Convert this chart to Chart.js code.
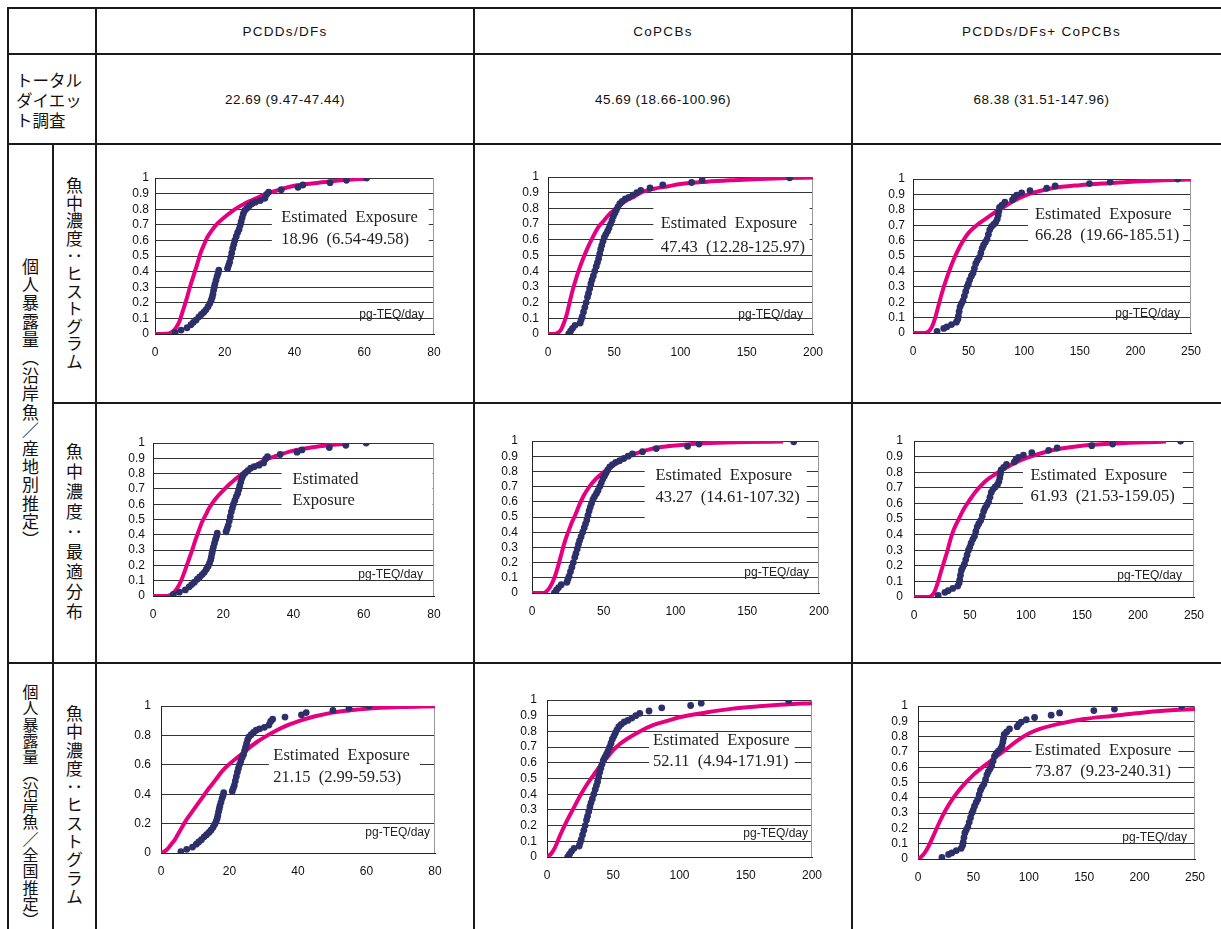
<!DOCTYPE html>
<html>
<head>
<meta charset="utf-8">
<script src="https://cdn.jsdelivr.net/npm/chart.js@4.4.1/dist/chart.umd.min.js"></script>
<style>
  body { margin: 0; width: 1221px; height: 929px; overflow: hidden; background: #fff; position: relative; color: #111; font-family: "Liberation Sans", sans-serif; }
  .ln { position: absolute; background: #1a1a1a; }
  .cell { position: absolute; display: flex; align-items: center; justify-content: center; }
  .head { font-size: 13.5px; letter-spacing: 1.3px; }
  .val { font-size: 13.5px; letter-spacing: 0.5px; }
  .jp { font-family: "Noto Sans CJK JP", sans-serif; }
  .vt { writing-mode: vertical-rl; text-orientation: upright; font-family: "Noto Sans CJK JP", sans-serif; font-size: 17px; }
  canvas { position: absolute; }
</style>
</head>
<body>
<!-- table rules -->
<div class="ln" style="left:7px;top:7px;width:1230px;height:2px"></div>
<div class="ln" style="left:7px;top:53px;width:1230px;height:2px"></div>
<div class="ln" style="left:7px;top:143px;width:1230px;height:2px"></div>
<div class="ln" style="left:52px;top:402px;width:1180px;height:2px"></div>
<div class="ln" style="left:7px;top:662px;width:1230px;height:2px"></div>
<div class="ln" style="left:7px;top:7px;width:2px;height:930px"></div>
<div class="ln" style="left:52px;top:143px;width:2px;height:790px"></div>
<div class="ln" style="left:95px;top:7px;width:2px;height:930px"></div>
<div class="ln" style="left:473px;top:7px;width:2px;height:930px"></div>
<div class="ln" style="left:851px;top:7px;width:2px;height:930px"></div>

<div id="labels"></div>

<script>
// column titles and total diet study values
const colTitles = ["PCDDs/DFs", "CoPCBs", "PCDDs/DFs+ CoPCBs"];
const totalDiet = ["22.69 (9.47-47.44)", "45.69 (18.66-100.96)", "68.38 (31.51-147.96)"];
const rowGroupA = "個人暴露量（沿岸魚／産地別推定）";
const rowGroupB = "個人暴露量（沿岸魚／全国推定）";
const subHist = "魚中濃度：ヒストグラム";
const subFit = "魚中濃度：最適分布";
const unitLabel = "pg-TEQ/day";

// axis ticks
const xMax = [80, 200, 250];
const xStep = [20, 50, 50];
const yTicksFine = [0, 0.1, 0.2, 0.3, 0.4, 0.5, 0.6, 0.7, 0.8, 0.9, 1];
const yTicksCoarse = [0, 0.2, 0.4, 0.6, 0.8, 1];

// observed cumulative points (same for every row of a column)
const obsPCDD = [[5.8,0.01],[7.5,0.025],[9.2,0.04],[10.3,0.06],[11.0,0.075],[11.8,0.09],[12.6,0.11],[13.3,0.125],[14.0,0.14],[14.6,0.155],[15.2,0.175],[15.7,0.195],[16.1,0.215],[16.4,0.235],[16.6,0.255],[16.8,0.28],[17.0,0.30],[17.2,0.32],[17.5,0.345],[17.8,0.37],[18.1,0.39],[18.3,0.41],[20.8,0.42],[21.1,0.44],[21.4,0.46],[21.7,0.49],[22.0,0.52],[22.3,0.55],[22.6,0.575],[22.9,0.60],[23.3,0.625],[23.7,0.65],[24.1,0.67],[24.4,0.695],[24.7,0.72],[25.0,0.745],[25.3,0.77],[25.7,0.79],[26.3,0.805],[27.0,0.82],[27.8,0.835],[28.8,0.845],[30.2,0.855],[31.5,0.87],[32.0,0.895],[32.6,0.91],[36.2,0.925],[41.0,0.94],[42.4,0.955],[50.2,0.97],[54.9,0.985],[60.7,1.0]];
const obsCoPCB = [[15.6,0.0],[17.0,0.018],[18.5,0.036],[20.4,0.055],[24.3,0.07],[25.0,0.09],[25.8,0.11],[26.8,0.14],[27.8,0.17],[28.8,0.20],[29.8,0.235],[30.6,0.26],[31.5,0.29],[32.4,0.32],[33.2,0.345],[34.2,0.37],[35.3,0.40],[36.4,0.43],[37.3,0.455],[38.2,0.48],[39.0,0.51],[39.8,0.54],[40.6,0.565],[41.5,0.59],[42.5,0.615],[43.6,0.635],[44.9,0.655],[46.0,0.675],[47.2,0.70],[48.3,0.725],[49.3,0.75],[50.5,0.77],[51.6,0.79],[52.8,0.81],[54.2,0.83],[56.0,0.845],[58.3,0.86],[61.0,0.87],[64.0,0.885],[67.0,0.90],[70.0,0.915],[77.0,0.93],[86.6,0.95],[108.4,0.965],[116.4,0.98],[182.4,0.995]];
const obsSum = [[21.6,0.01],[27.6,0.03],[30.5,0.04],[34.6,0.055],[39.0,0.07],[40.3,0.09],[40.8,0.11],[41.5,0.14],[42.3,0.17],[43.5,0.19],[45.0,0.21],[46.2,0.24],[47.4,0.27],[48.6,0.30],[49.8,0.32],[51.0,0.345],[52.5,0.37],[54.0,0.39],[55.2,0.42],[56.4,0.45],[57.8,0.47],[59.5,0.49],[61.0,0.52],[62.2,0.55],[63.4,0.57],[65.0,0.59],[66.6,0.61],[67.8,0.64],[69.0,0.67],[70.5,0.69],[72.5,0.705],[74.5,0.72],[75.8,0.74],[76.6,0.765],[77.2,0.79],[77.8,0.815],[80.0,0.83],[82.6,0.85],[89.5,0.865],[91.0,0.88],[93.2,0.895],[97.7,0.91],[105.2,0.925],[120.2,0.94],[127.8,0.955],[158.7,0.97],[177.3,0.98],[238.0,1.0]];

// estimated exposure curves (pink), one per panel
const fitR1C1 = [[0,0],[2,0],[4,0.003],[5,0.015],[6,0.04],[7,0.08],[8,0.15],[9,0.22],[10,0.30],[11,0.37],[12,0.44],[13,0.515],[14,0.57],[15,0.62],[16,0.655],[18,0.71],[20,0.75],[22,0.785],[24,0.815],[26,0.84],[28,0.86],[30,0.88],[32,0.90],[35,0.92],[40,0.95],[45,0.965],[50,0.978],[55,0.988],[60.5,0.995]];
const fitR1C2 = [[0,0],[5,0],[8,0.01],[10,0.03],[12,0.07],[14,0.12],[16,0.19],[18,0.26],[20,0.32],[23,0.40],[26,0.47],[30,0.55],[34,0.62],[38,0.68],[42,0.72],[46,0.76],[50,0.79],[55,0.825],[60,0.855],[65,0.875],[70,0.90],[80,0.925],[90,0.94],[100,0.955],[120,0.97],[140,0.98],[160,0.988],[180,0.993],[200,0.997]];
const fitR1C3 = [[0,0],[10,0],[14,0.01],[17,0.04],[20,0.10],[23,0.18],[26,0.26],[30,0.35],[34,0.43],[38,0.50],[42,0.56],[46,0.61],[50,0.65],[55,0.685],[60,0.715],[65,0.74],[70,0.765],[75,0.79],[80,0.81],[90,0.855],[100,0.89],[110,0.915],[125,0.94],[150,0.96],[175,0.973],[200,0.984],[225,0.992],[250,0.997]];
const fitR2C1 = [[0,0],[4,0],[5,0.008],[6,0.025],[7,0.055],[8,0.10],[9,0.16],[10,0.225],[11,0.29],[12,0.36],[13,0.425],[14,0.485],[15,0.53],[16,0.575],[18,0.64],[20,0.69],[22,0.735],[24,0.775],[26,0.81],[28,0.84],[30,0.865],[32,0.89],[35,0.915],[40,0.95],[45,0.97],[50,0.985],[55,0.995]];
const fitR2C2 = [[0,0],[8,0],[10,0.01],[12,0.03],[14,0.065],[16,0.11],[18,0.17],[20,0.24],[22,0.31],[24,0.37],[26,0.42],[28,0.47],[30,0.51],[33,0.58],[36,0.64],[40,0.70],[45,0.755],[50,0.795],[55,0.83],[60,0.86],[65,0.89],[70,0.91],[80,0.94],[90,0.96],[100,0.97],[120,0.985],[150,0.993],[175,0.997]];
const fitR2C3 = [[0,0],[13,0],[16,0.01],[18,0.03],[20,0.065],[22,0.11],[24,0.16],[27,0.23],[30,0.30],[33,0.38],[36,0.44],[40,0.50],[45,0.57],[50,0.625],[55,0.675],[60,0.715],[65,0.75],[70,0.775],[80,0.82],[90,0.86],[100,0.89],[115,0.925],[130,0.95],[150,0.97],[175,0.982],[200,0.99],[225,0.996]];
const fitR3C1 = [[0,0],[1,0.01],[2,0.03],[3,0.06],[4,0.09],[5,0.13],[6,0.17],[7,0.21],[8,0.245],[10,0.31],[12,0.375],[14,0.44],[16,0.50],[18,0.56],[20,0.605],[22,0.645],[24,0.68],[26,0.72],[28,0.755],[30,0.785],[33,0.825],[36,0.86],[40,0.895],[45,0.93],[50,0.955],[55,0.97],[60,0.982],[70,0.993],[80,0.998]];
const fitR3C2 = [[0,0],[3,0.02],[6,0.06],[10,0.14],[15,0.23],[20,0.31],[25,0.39],[30,0.46],[35,0.52],[40,0.58],[45,0.63],[50,0.68],[55,0.72],[60,0.75],[70,0.80],[80,0.84],[90,0.865],[100,0.89],[120,0.92],[140,0.945],[160,0.96],[180,0.972],[200,0.98]];
const fitR3C3 = [[0,0],[3,0.015],[6,0.04],[10,0.09],[15,0.17],[20,0.25],[25,0.32],[30,0.38],[35,0.43],[40,0.475],[50,0.55],[60,0.61],[70,0.665],[80,0.72],[90,0.775],[100,0.82],[110,0.85],[125,0.88],[150,0.915],[175,0.935],[200,0.955],[225,0.97],[250,0.98]];

// estimated exposure text per panel
const estR1 = ["18.96  (6.54-49.58)", "47.43  (12.28-125.97)", "66.28  (19.66-185.51)"];
const estR2 = ["", "43.27  (14.61-107.32)", "61.93  (21.53-159.05)"];
const estR3 = ["21.15  (2.99-59.53)", "52.11  (4.94-171.91)", "73.87  (9.23-240.31)"];

const PINK = "#e5007f";
const NAVY = "#2d2f6a";
const PL = 45, PT = 12, PR = 22, PB = 30;

// ---- html labels ----
const lab = document.getElementById("labels");
function cell(x, y, w, h, cls, html, style) {
  const d = document.createElement("div");
  d.className = "cell " + cls;
  d.style.cssText = `left:${x}px;top:${y}px;width:${w}px;height:${h}px;` + (style || "");
  d.innerHTML = html;
  lab.appendChild(d);
}
const colX = [97, 475, 853];
const colW = [376, 376, 377];
colTitles.forEach((t, i) => cell(colX[i], 9, colW[i], 44, "head", t));
totalDiet.forEach((t, i) => cell(colX[i], 55, colW[i], 88, "val", t));
cell(16, 69, 80, 62, "jp", "トータル<br>ダイエッ<br>ト調査",
  "justify-content:flex-start;font-size:16.5px;line-height:20px;");
cell(9, 145, 43, 517, "", `<div class="vt" style="letter-spacing:1.2px">${rowGroupA}</div>`);
cell(54, 145, 41, 257, "", `<div class="vt" style="letter-spacing:0.6px">${subHist}</div>`);
cell(54, 404, 41, 258, "", `<div class="vt" style="letter-spacing:3px">${subFit}</div>`);
cell(9, 664, 43, 284, "", `<div class="vt" style="font-size:16px;letter-spacing:0.3px">${rowGroupB}</div>`);
cell(54, 664, 41, 284, "", `<div class="vt" style="letter-spacing:1.3px">${subHist}</div>`);

// ---- annotation plugin: white box, estimate text, unit, right frame ----
const annotate = {
  id: "annotate",
  beforeDatasetsDraw(chart, args, opts) {
    const p = opts.panel;
    const { ctx, chartArea: a } = chart;
    const x = chart.scales.x, y = chart.scales.y;
    ctx.save();
    ctx.strokeStyle = "#999";
    ctx.lineWidth = 1;
    ctx.beginPath();
    ctx.moveTo(a.right - 0.5, a.top);
    ctx.lineTo(a.right - 0.5, a.bottom);
    ctx.stroke();
    const bx0 = x.getPixelForValue(p.box[0]), bx1 = x.getPixelForValue(p.box[1]);
    const by0 = y.getPixelForValue(p.box[3]), by1 = y.getPixelForValue(p.box[2]);
    ctx.fillStyle = "#fff";
    ctx.fillRect(bx0, by0, bx1 - bx0, by1 - by0);
    ctx.fillStyle = "#222";
    ctx.font = '16.5px "Liberation Serif"';
    ctx.textAlign = "left";
    ctx.textBaseline = "middle";
    p.lines.forEach((t, i) => ctx.fillText(t, x.getPixelForValue(p.tx), y.getPixelForValue(p.ty[i])));
    ctx.font = '12px "Liberation Sans"';
    ctx.textAlign = "right";
    ctx.fillText(unitLabel, a.right - p.unitDx, y.getPixelForValue(p.unitY));
    ctx.restore();
  },
};

const panels = [
  { obs: obsPCDD, fit: fitR1C1, col: 0, yTicks: yTicksFine, plot: [155, 178, 434, 334], ylPad: 6,
    box: [33.5, 78.5, 0.55, 0.85], tx: 36.2, ty: [0.745, 0.605], lines: ["Estimated  Exposure", estR1[0]], unitY: 0.126, unitDx: 10 },
  { obs: obsCoPCB, fit: fitR1C2, col: 1, yTicks: yTicksFine, plot: [548, 177, 813, 334], ylPad: 9,
    box: [79.5, 197.5, 0.52, 0.84], tx: 85, ty: [0.705, 0.553], lines: ["Estimated  Exposure", estR1[1]], unitY: 0.125, unitDx: 10 },
  { obs: obsSum, fit: fitR1C3, col: 2, yTicks: yTicksFine, plot: [913, 179, 1191, 333], ylPad: 8,
    box: [103.5, 243, 0.5, 0.84], tx: 109.7, ty: [0.767, 0.63], lines: ["Estimated  Exposure", estR1[2]], unitY: 0.123, unitDx: 11 },
  { obs: obsPCDD, fit: fitR2C1, col: 0, yTicks: yTicksFine, plot: [153, 443, 434, 596], ylPad: 8,
    box: [36.6, 79.6, 0.55, 0.85], tx: 39.7, ty: [0.76, 0.62], lines: ["Estimated", "Exposure"], unitY: 0.138, unitDx: 11 },
  { obs: obsCoPCB, fit: fitR2C2, col: 1, yTicks: yTicksFine, plot: [532, 441, 819, 593], ylPad: 14,
    box: [78.5, 191.5, 0.48, 0.84], tx: 86, ty: [0.775, 0.626], lines: ["Estimated  Exposure", estR2[1]], unitY: 0.131, unitDx: 10 },
  { obs: obsSum, fit: fitR2C3, col: 2, yTicks: yTicksFine, plot: [914, 441, 1194, 597], ylPad: 11,
    box: [97.3, 240, 0.53, 0.84], tx: 104, ty: [0.776, 0.64], lines: ["Estimated  Exposure", estR2[2]], unitY: 0.135, unitDx: 12 },
  { obs: obsPCDD, fit: fitR3C1, col: 0, yTicks: yTicksCoarse, plot: [161, 706, 435, 853], ylPad: 10,
    box: [31.5, 75.6, 0.46, 0.77], tx: 32.8, ty: [0.66, 0.51], lines: ["Estimated  Exposure", estR3[0]], unitY: 0.136, unitDx: 5 },
  { obs: obsCoPCB, fit: fitR3C2, col: 1, yTicks: yTicksFine, plot: [547, 700, 812, 857], ylPad: 10,
    box: [77, 187, 0.55, 0.77], tx: 80, ty: [0.739, 0.605], lines: ["Estimated  Exposure", estR3[1]], unitY: 0.146, unitDx: 4 },
  { obs: obsSum, fit: fitR3C3, col: 2, yTicks: yTicksFine, plot: [918, 706, 1195, 859], ylPad: 10,
    box: [102.4, 235, 0.53, 0.77], tx: 105.4, ty: [0.71, 0.57], lines: ["Estimated  Exposure", estR3[2]], unitY: 0.141, unitDx: 8 },
];

const tickFont = { family: "Liberation Sans", size: 12, lineHeight: 1 };

panels.forEach((p) => {
  const [l, t, r, b] = p.plot;
  const cv = document.createElement("canvas");
  const w = r - l + PL + PR, h = b - t + PT + PB;
  cv.width = w;
  cv.height = h;
  cv.style.left = l - PL + "px";
  cv.style.top = t - PT + "px";
  cv.style.width = w + "px";
  cv.style.height = h + "px";
  document.body.appendChild(cv);

  new Chart(cv, {
    type: "scatter",
    data: {
      datasets: [
        {
          data: p.obs.map(([x, y]) => ({ x, y })),
          pointRadius: 3.4,
          pointBackgroundColor: NAVY,
          pointBorderWidth: 0,
          showLine: false,
        },
        {
          data: p.fit.map(([x, y]) => ({ x, y })),
          showLine: true,
          borderColor: PINK,
          borderWidth: 4,
          pointRadius: 0,
          cubicInterpolationMode: "monotone",
        },
      ],
    },
    options: {
      responsive: false,
      animation: false,
      devicePixelRatio: 1,
      layout: { padding: { top: PT, right: PR, left: 0, bottom: 0 } },
      plugins: { legend: { display: false }, tooltip: { enabled: false }, annotate: { panel: p } },
      scales: {
        x: {
          type: "linear",
          min: 0,
          max: xMax[p.col],
          ticks: { stepSize: xStep[p.col], padding: 5, color: "#111", font: tickFont, maxRotation: 0, autoSkip: false },
          grid: { display: false },
          border: { color: "#222" },
          afterFit(s) { s.height = PB; s.paddingLeft = 0; s.paddingRight = 0; },
        },
        y: {
          min: 0,
          max: 1,
          ticks: {
            padding: p.ylPad, color: "#111", font: tickFont, autoSkip: false,
            callback: (v) => String(Math.round(v * 10) / 10),
          },
          afterBuildTicks(s) { s.ticks = p.yTicks.map((v) => ({ value: v })); },
          grid: { color: "#333", drawTicks: false },
          border: { color: "#222" },
          afterFit(s) { s.width = PL; s.paddingTop = 0; s.paddingBottom = 0; },
        },
      },
    },
    plugins: [annotate],
  });
});
</script>
</body>
</html>
